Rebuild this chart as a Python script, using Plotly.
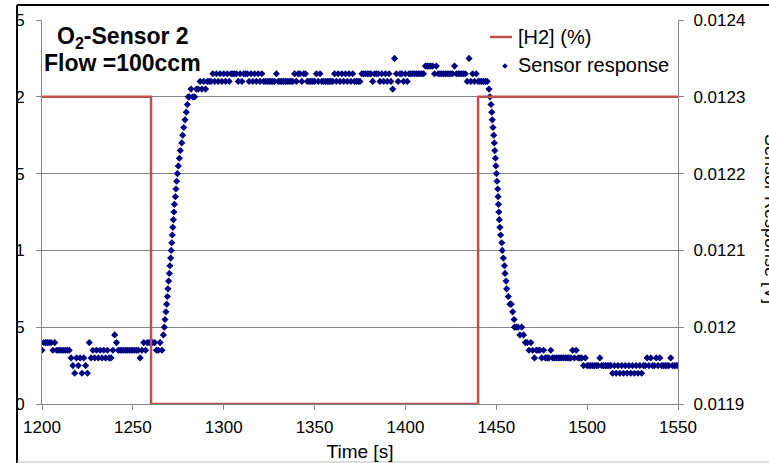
import plotly.graph_objects as go

# ---------------- data ----------------
# [H2] concentration (%) step profile
h2_time = [1200, 1260, 1260, 1440, 1440, 1550]
h2_pct = [2, 2, 0, 0, 2, 2]

# Sensor response, in counts of 10 microvolts (1198 -> 0.01198 V)
COUNT_TO_V = 1e-5

# baseline before H2 removal, sampled every 1 s starting at 1200 s
before_start_s = 1200
before_counts = [
    1197, 1198, 1198, 1198, 1198, 1198, 1197, 1198, 1197, 1197,
    1197, 1197, 1197, 1197, 1197, 1197, 1196, 1195, 1194, 1196,
    1195, 1196, 1194, 1196, 1195, 1194, 1198, 1196, 1197, 1196,
    1197, 1196, 1197, 1196, 1197, 1196, 1197, 1196, 1196, 1197,
    1199, 1198, 1197, 1197, 1197, 1197, 1197, 1197, 1197, 1197,
    1197, 1197, 1197, 1197, 1196, 1197, 1198, 1197, 1198, 1198,
    1198, 1198, 1198, 1197, 1197, 1198, 1197,
]

# rising edge
rise_time = [1266.8, 1267.3, 1267.7, 1268.2, 1268.6, 1269.0, 1269.3, 1269.7,
             1270.1, 1270.4, 1270.8, 1271.1, 1271.4, 1271.7, 1272.0, 1272.3,
             1272.6, 1272.9, 1273.4, 1273.7, 1274.1, 1274.5, 1275.0, 1275.6,
             1276.1, 1276.9, 1277.4, 1278.0, 1278.7, 1279.4, 1280.0, 1280.5]
rise_counts = [1199, 1200, 1201, 1202, 1203, 1204, 1205, 1206,
               1207, 1208, 1209, 1210, 1211, 1212, 1213, 1214,
               1215, 1216, 1217, 1218, 1219, 1220, 1221, 1222,
               1223, 1224, 1225, 1226, 1227, 1228, 1229, 1230]

# plateau, sampled every 1 s starting at 1281 s
plateau_start_s = 1281
plateau_counts = [
    1230, 1231, 1230, 1230, 1231, 1231, 1232, 1231, 1232, 1231,
    1232, 1232, 1232, 1233, 1232, 1233, 1232, 1233, 1232, 1233,
    1232, 1233, 1232, 1233, 1233, 1233, 1233, 1232, 1233, 1232,
    1233, 1233, 1233, 1232, 1233, 1232, 1233, 1232, 1233, 1232,
    1233, 1232, 1232, 1232, 1232, 1232, 1232, 1232, 1233, 1232,
    1232, 1232, 1232, 1232, 1232, 1232, 1232, 1232, 1233, 1232,
    1233, 1233, 1232, 1233, 1233, 1232, 1232, 1232, 1232, 1232,
    1233, 1232, 1233, 1232, 1232, 1232, 1232, 1232, 1232, 1232,
    1233, 1232, 1233, 1232, 1233, 1232, 1233, 1232, 1233, 1232,
    1233, 1232, 1232, 1232, 1232, 1233, 1233, 1233, 1233, 1233,
    1233, 1232, 1233, 1233, 1233, 1232, 1233, 1232, 1233, 1232,
    1233, 1232, 1231, 1235, 1233, 1232, 1233, 1233, 1232, 1233,
    1232, 1233, 1233, 1233, 1233, 1233, 1233, 1233, 1233, 1233,
    1234, 1234, 1234, 1234, 1234, 1233, 1234, 1233, 1233, 1233,
    1233, 1233, 1233, 1233, 1233, 1233, 1234, 1233, 1233, 1233,
    1233, 1233, 1233, 1232, 1235, 1232, 1233, 1232, 1233, 1232,
    1232, 1232, 1232, 1232, 1232,
]

# falling edge
fall_time = [1446.0, 1446.5, 1447.1, 1447.5, 1447.8, 1448.2, 1448.6, 1448.9,
             1449.2, 1449.5, 1449.8, 1450.1, 1450.4, 1450.8, 1451.0, 1451.2,
             1451.4, 1451.7, 1452.0, 1452.4, 1453.0, 1453.3, 1453.9, 1454.5,
             1454.8, 1455.4, 1455.7, 1456.6, 1457.5, 1458.2, 1459.0, 1459.8]
fall_counts = [1231, 1230, 1229, 1228, 1227, 1226, 1225, 1224,
               1223, 1222, 1221, 1220, 1219, 1218, 1217, 1216,
               1215, 1214, 1213, 1212, 1211, 1210, 1209, 1208,
               1207, 1206, 1205, 1204, 1203, 1203, 1202, 1201]

# baseline after, sampled every 1 s starting at 1460 s
after_start_s = 1460
after_counts = [
    1200, 1200, 1200, 1199, 1200, 1199, 1198, 1198, 1197, 1198,
    1197, 1196, 1197, 1197, 1197, 1196, 1197, 1196, 1196, 1196,
    1197, 1196, 1196, 1196, 1196, 1196, 1196, 1196, 1196, 1196,
    1196, 1196, 1197, 1196, 1197, 1196, 1196, 1196, 1195, 1196,
    1195, 1195, 1195, 1195, 1195, 1195, 1195, 1196, 1195, 1195,
    1195, 1195, 1195, 1195, 1194, 1195, 1194, 1195, 1194, 1195,
    1194, 1195, 1194, 1195, 1194, 1195, 1194, 1195, 1194, 1195,
    1194, 1195, 1195, 1196, 1195, 1196, 1195, 1195, 1196, 1195,
    1196, 1195, 1195, 1195, 1195, 1195, 1196, 1195, 1195, 1195,
    1195,
]

x_tick_vals = [1200, 1250, 1300, 1350, 1400, 1450, 1500, 1550]
left_tick_vals = [0, 0.5, 1, 1.5, 2, 2.5]
left_tick_text = ["0", "0.5", "1", "1.5", "2", "2.5"]
right_tick_vals = [0.0119, 0.0120, 0.0121, 0.0122, 0.0123, 0.0124]
right_tick_text = ["0.0119", "0.012", "0.0121", "0.0122", "0.0123", "0.0124"]

h2_name = "[H2] (%)"
resp_name = "Sensor response"

# ---------------- assemble sensor series ----------------
resp_t, resp_c = [], []
for i, c in enumerate(before_counts):
    resp_t.append(before_start_s + i)
    resp_c.append(c)
resp_t += rise_time
resp_c += rise_counts
for i, c in enumerate(plateau_counts):
    resp_t.append(plateau_start_s + i)
    resp_c.append(c)
resp_t += fall_time
resp_c += fall_counts
for i, c in enumerate(after_counts):
    resp_t.append(after_start_s + i)
    resp_c.append(c)
resp_v = [c * COUNT_TO_V for c in resp_c]

# ---------------- figure ----------------
W, H = 769, 463
ML, MR, MT, MB = 42, 91, 20, 59
PW, PH = W - ML - MR, H - MT - MB


def xp(px):
    return (px - ML) / PW


def yp(py):
    return (H - MB - py) / PH


FONT = "Liberation Sans, Arial, sans-serif"
GRID = "#868686"
NAVY = "#000080"
RED = "#C0504D"

fig = go.Figure()
fig.add_trace(go.Scatter(
    x=resp_t, y=resp_v, mode="markers", name=resp_name,
    yaxis="y", showlegend=False,
    marker=dict(symbol="diamond", size=5.5, color=NAVY),
))
fig.add_trace(go.Scatter(
    x=h2_time, y=h2_pct, mode="lines", name=h2_name,
    yaxis="y2", showlegend=False,
    line=dict(color=RED, width=2.5),
))

fig.update_layout(
    width=W, height=H,
    margin=dict(l=ML, r=MR, t=MT, b=MB, autoexpand=False),
    paper_bgcolor="white", plot_bgcolor="white",
    font=dict(family=FONT, size=17, color="#000000"),
    showlegend=False,
    xaxis=dict(range=[1200, 1550], tickvals=x_tick_vals, ticks="outside",
               ticklen=5, tickcolor=GRID, showline=True, linecolor=GRID,
               linewidth=1, showgrid=False, zeroline=False,
               tickfont=dict(size=17), ticklabelstandoff=3,
               title=dict(text="Time [s]", font=dict(size=19), standoff=8)),
    yaxis=dict(side="right", range=[0.0119, 0.0124], tickvals=right_tick_vals,
               ticktext=right_tick_text, ticks="outside", ticklen=5,
               tickcolor=GRID, showline=True, linecolor=GRID, linewidth=1,
               showgrid=True, gridcolor=GRID, gridwidth=1, zeroline=False,
               tickfont=dict(size=17), ticklabelstandoff=6),
    yaxis2=dict(side="left", overlaying="y", range=[0, 2.5],
                tickvals=left_tick_vals, ticktext=left_tick_text,
                ticks="outside", ticklen=5, tickcolor=GRID, showline=True,
                linecolor=GRID, linewidth=1, showgrid=False, zeroline=False,
                tickfont=dict(size=17), ticklabelstandoff=8),
)

# in-plot caption
fig.add_annotation(
    xref="paper", yref="paper", x=xp(122.5), y=yp(37), xanchor="center",
    yanchor="middle", showarrow=False,
    text="<b>O<sub>2</sub>-Sensor 2</b>",
    font=dict(size=23, family=FONT, color="#000000"),
)
fig.add_annotation(
    xref="paper", yref="paper", x=xp(122.5), y=yp(63), xanchor="center",
    yanchor="middle", showarrow=False,
    text="<b>Flow =100ccm</b>",
    font=dict(size=23, family=FONT, color="#000000"),
)
# secondary axis title (cut by the image edge in the original)
fig.add_annotation(
    xref="paper", yref="paper", x=xp(771), y=yp(219), xanchor="center",
    yanchor="middle", showarrow=False, textangle=90,
    text="Sensor Response [V]", font=dict(size=18, family=FONT),
)

# legend (drawn by hand so the small marker symbol shows)
fig.add_shape(type="line", xref="paper", yref="paper", layer="above",
              x0=xp(490), x1=xp(512), y0=yp(37), y1=yp(37),
              line=dict(color=RED, width=2.5))
fig.add_annotation(
    xref="paper", yref="paper", x=xp(516), y=yp(37), xanchor="left",
    yanchor="middle", showarrow=False, text=h2_name,
    font=dict(size=20, family=FONT, color="#000000"),
)
cx, cy, r = 505, 66, 2.8
fig.add_shape(type="path", xref="paper", yref="paper", layer="above",
              path=(f"M {xp(cx)},{yp(cy - r)} L {xp(cx + r)},{yp(cy)} "
                    f"L {xp(cx)},{yp(cy + r)} L {xp(cx - r)},{yp(cy)} Z"),
              fillcolor=NAVY, line=dict(width=0))
fig.add_annotation(
    xref="paper", yref="paper", x=xp(516), y=yp(65), xanchor="left",
    yanchor="middle", showarrow=False, text=resp_name,
    font=dict(size=20, family=FONT, color="#000000"),
)

# chart-area frame (image crop edge)
fig.add_shape(type="rect", xref="paper", yref="paper", layer="above",
              x0=xp(-5), x1=xp(16.5), y0=yp(470), y1=yp(-5),
              fillcolor="white", line=dict(width=0))
fig.add_shape(type="line", xref="paper", yref="paper", layer="above",
              x0=xp(17), x1=xp(775), y0=yp(5), y1=yp(5),
              line=dict(color="#000000", width=2))
fig.add_shape(type="line", xref="paper", yref="paper", layer="above",
              x0=xp(17), x1=xp(17), y0=yp(5), y1=yp(470),
              line=dict(color="#000000", width=2))
fig.add_shape(type="line", xref="paper", yref="paper", layer="above",
              x0=xp(17), x1=xp(775), y0=yp(462), y1=yp(462),
              line=dict(color="#BBBBBB", width=1))

fig.write_html("out.html")
